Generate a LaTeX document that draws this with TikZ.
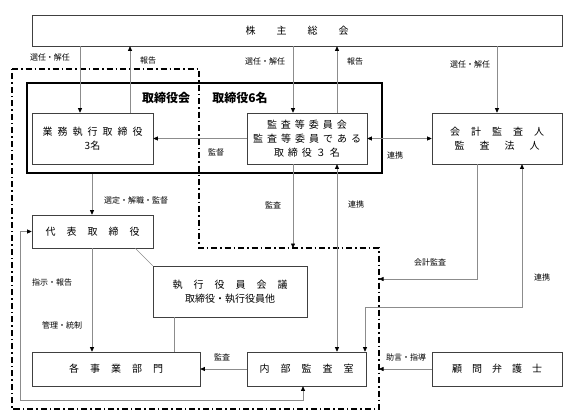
\documentclass[tikz,border=0pt]{standalone}
\usepackage{fontspec}
\newfontfamily\jp{Noto Sans CJK JP}
\usetikzlibrary{arrows.meta}
\newcommand{\jg}[1]{\hspace{#1pt}}

\begin{document}
\begin{tikzpicture}[
    x=1pt, y=-1pt,
    font=\jp\fontsize{10}{14}\selectfont,
    box/.style={rectangle, draw=black!75, line width=0.6pt, inner sep=0pt, align=center},
    arrow/.style={-{Triangle[length=4.5pt,width=4pt,color=black]}, draw=black!45, line width=0.7pt},
    twoway/.style={{Triangle[length=4.5pt,width=4pt,color=black]}-{Triangle[length=4.5pt,width=4pt,color=black]}, draw=black!45, line width=0.7pt},
    link/.style={draw=black!45, line width=0.7pt},
    lbl/.style={font=\jp\fontsize{8}{9}\selectfont},
    title/.style={font=\jp\bfseries\fontsize{12}{14}\selectfont},
    frame/.style={draw=black, line width=1.2pt, dash pattern=on 6pt off 3pt on 1.5pt off 3pt}
]
\useasboundingbox (0,0) rectangle (565,418);

% Board (thick frame)
\node[draw=black, line width=1.6pt, minimum width=355pt, minimum height=90pt] (board) at (204.5,128) {};
\node[title] (board_label) at (166,98) {取締役会};
\node[title] (board_num) at (240,98) {取締役6名};

% Boxes
\node[box, minimum width=530pt, minimum height=31pt] (soukai) at (297,30.5) {株\jg{21}主\jg{21}総\jg{21}会};
\node[box, fill=white, minimum width=121pt, minimum height=51pt] (gyomu) at (92.5,138.5) {業\jg{5}務\jg{5}執\jg{5}行\jg{5}取\jg{5}締\jg{5}役\\3名};
\node[box, fill=white, minimum width=120pt, minimum height=51pt] (kansa) at (307,138.5) {監\jg{4}査\jg{4}等\jg{4}委\jg{4}員\jg{4}会\\監\jg{4}査\jg{4}等\jg{4}委\jg{4}員\jg{4}で\jg{4}あ\jg{4}る\\取\jg{4}締\jg{4}役\jg{4}３\jg{4}名};
\node[box, minimum width=130pt, minimum height=51pt] (kaikei) at (497,138.5) {会\jg{11}計\jg{11}監\jg{11}査\jg{11}人\\監\jg{15}査\jg{15}法\jg{15}人};
\node[box, minimum width=121pt, minimum height=33pt] (daihyo) at (92.5,231.5) {代\jg{11}表\jg{11}取\jg{11}締\jg{11}役};
\node[box, minimum width=154pt, minimum height=51pt] (shikko) at (230,291.5) {執\jg{11}行\jg{11}役\jg{11}員\jg{11}会\jg{11}議\\取締役・執行役員他};
\node[box, minimum width=168pt, minimum height=34pt] (jigyo) at (116,369) {各\jg{11}事\jg{11}業\jg{11}部\jg{11}門};
\node[box, minimum width=119pt, minimum height=34pt] (naibu) at (306.5,369) {内\jg{11}部\jg{11}監\jg{11}査\jg{11}室};
\node[box, minimum width=130pt, minimum height=34pt] (komon) at (497,369) {顧\jg{10}問\jg{10}弁\jg{10}護\jg{10}士};

% Dash-dot frame
\coordinate (frA) at (199,248);
\coordinate (frB) at (379,248);
\draw[frame] (12,69) -- (199,69) -- (frA) -- (frB) -- (379,409) -- (12,409) -- cycle;

% Connector positions
\coordinate (senA) at (80,0);
\coordinate (repA) at (130,0);
\coordinate (senB) at (293,0);
\coordinate (repB) at (337,0);
\coordinate (selD) at (92,0);
\coordinate (shk) at (174,0);
\coordinate (renN) at (365,0);
\coordinate (audK) at (477,279);
\coordinate (renK) at (522,307);
\coordinate (loopL) at (20,400);
\coordinate (loopR) at (303,400);

% Arrows from/to shareholders
\draw[arrow] (senA |- soukai.south) -- (senA |- gyomu.north);
\draw[arrow] (repA |- gyomu.north) -- (repA |- soukai.south);
\draw[arrow] (senB |- soukai.south) -- (senB |- kansa.north);
\draw[arrow] (repB |- kansa.north) -- (repB |- soukai.south);
\draw[arrow] (soukai.south -| kaikei.north) -- (kaikei.north);

% Board level
\draw[arrow] (kansa.west) -- (gyomu.east);
\draw[twoway] (kansa.east) -- (kaikei.west);
\draw[arrow] (selD |- board.south) -- (selD |- daihyo.north);
\draw[arrow] (senB |- kansa.south) -- (senB |- frA);
\draw[twoway] (repB |- kansa.south) -- (repB |- naibu.north);

% Execution level
\draw[link] ([xshift=-18pt]daihyo.south east) -- (shikko.north west);
\draw[link] (shk |- shikko.south) -- (shk |- jigyo.north);
\draw[arrow] (selD |- daihyo.south) -- (selD |- jigyo.north);
\draw[arrow] (naibu.west) -- (jigyo.east);
\draw[twoway] (loopR |- naibu.south) -- (loopR) -- (loopL) -- (loopL |- daihyo.west) -- (daihyo.west);

% Auditor and lawyer
\draw[arrow] (kaikei.south -| audK) -- (audK) -- (audK -| frB);
\draw[twoway] (renN |- naibu.north) -- (renN |- renK) -- (renK) -- (renK |- kaikei.south);
\draw[arrow] (komon.west) -- (komon.west -| frB);

% Labels
\node[lbl] (l_sen1) at (50,57) {選任・解任};
\node[lbl] (l_rep1) at (148,60) {報告};
\node[lbl] (l_sen2) at (265,61) {選任・解任};
\node[lbl] (l_rep2) at (355,61) {報告};
\node[lbl] (l_sen3) at (470,64) {選任・解任};
\node[lbl] (l_kan1) at (216,152) {監督};
\node[lbl] (l_ren1) at (395,155) {連携};
\node[lbl] (l_sel) at (136,200) {選定・解職・監督};
\node[lbl] (l_kan2) at (273,205) {監査};
\node[lbl] (l_ren2) at (356,204) {連携};
\node[lbl] (l_shi) at (52,282) {指示・報告};
\node[lbl] (l_kan3) at (62,325) {管理・統制};
\node[lbl] (l_aud) at (430,262) {会計監査};
\node[lbl] (l_ren3) at (542,277) {連携};
\node[lbl] (l_kan4) at (222,357) {監査};
\node[lbl] (l_jog) at (406,357) {助言・指導};

\end{tikzpicture}
\end{document}
